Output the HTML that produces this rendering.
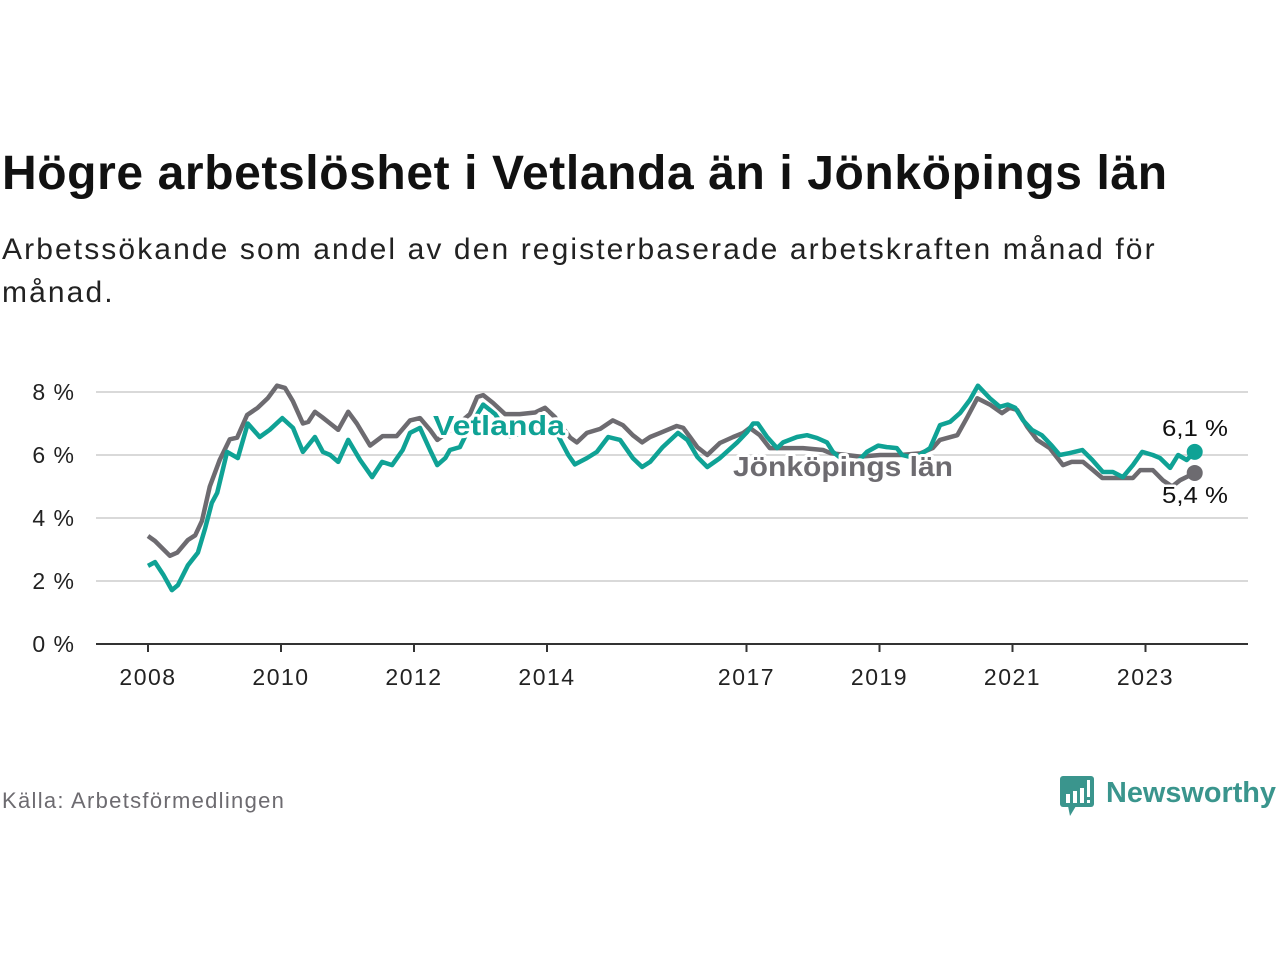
<!DOCTYPE html>
<html><head><meta charset="utf-8"><style>
html,body{margin:0;padding:0;background:#fff;width:1280px;height:960px;overflow:hidden;font-family:"Liberation Sans",sans-serif}
#title{position:absolute;left:2px;top:146px;font-size:48px;font-weight:bold;color:#111;letter-spacing:0.6px;white-space:nowrap}
#sub{position:absolute;left:2px;top:228px;font-size:30px;line-height:43px;color:#222;width:1240px;letter-spacing:2.1px;white-space:nowrap}
#src{position:absolute;left:2px;top:788px;font-size:22px;color:#6d6b70;letter-spacing:1.3px}
svg{position:absolute;left:0;top:0}
</style></head><body>
<div id="title">Högre arbetslöshet i Vetlanda än i Jönköpings län</div>
<div id="sub">Arbetssökande som andel av den registerbaserade arbetskraften månad för<br>månad.</div>
<div id="src">Källa: Arbetsförmedlingen</div>
<svg id="chart" width="1280" height="960"></svg>
<svg width="1280" height="960" style="pointer-events:none">
<g>
<rect x="1060" y="776" width="34" height="31" rx="3" fill="#3a958d"/>
<polygon points="1068,806 1076,806 1070,816" fill="#3a958d"/>
<rect x="1066" y="794" width="4" height="9" fill="#fff"/><rect x="1073" y="791" width="4" height="12" fill="#fff"/><rect x="1080" y="788" width="4" height="15" fill="#fff"/><rect x="1087" y="780" width="3" height="17" fill="#fff"/><rect x="1087" y="800" width="3" height="3" fill="#fff"/>
<text x="1106" y="802" font-size="29" font-weight="bold" font-family="Liberation Sans, sans-serif" fill="#3a958d" textLength="170" lengthAdjust="spacingAndGlyphs">Newsworthy</text>
</g></svg>
<script>
const yTicks=[0,2,4,6,8];
const yTickLabels=["0 %","2 %","4 %","6 %","8 %"];
const xTicks=[2008,2010,2012,2014,2017,2019,2021,2023];
const vetDates=[2008.0,2008.105,2008.23,2008.36,2008.45,2008.6,2008.75,2008.86,2008.96,2009.04,2009.19,2009.35,2009.5,2009.68,2009.83,2010.02,2010.18,2010.33,2010.51,2010.63,2010.74,2010.86,2011.01,2011.19,2011.37,2011.52,2011.67,2011.83,2011.94,2012.09,2012.24,2012.35,2012.47,2012.54,2012.69,2012.84,2013.04,2013.22,2013.44,2013.67,2013.89,2014.12,2014.32,2014.42,2014.6,2014.75,2014.92,2015.1,2015.29,2015.43,2015.55,2015.74,2015.97,2016.11,2016.26,2016.41,2016.6,2016.86,2017.01,2017.1,2017.17,2017.31,2017.46,2017.55,2017.76,2017.91,2018.06,2018.21,2018.3,2018.48,2018.63,2018.81,2018.98,2019.11,2019.26,2019.34,2019.53,2019.76,2019.91,2020.06,2020.21,2020.36,2020.48,2020.66,2020.81,2020.93,2021.04,2021.16,2021.29,2021.44,2021.59,2021.71,2021.86,2022.05,2022.2,2022.36,2022.51,2022.66,2022.81,2022.95,2023.11,2023.22,2023.37,2023.49,2023.62,2023.74];
const vetValues=[2.48,2.6,2.2,1.71,1.87,2.5,2.9,3.68,4.48,4.8,6.1,5.9,7.0,6.57,6.8,7.17,6.86,6.1,6.57,6.1,6.0,5.78,6.48,5.84,5.3,5.78,5.68,6.16,6.7,6.86,6.16,5.68,5.9,6.16,6.25,6.9,7.6,7.3,6.6,6.7,6.9,6.8,6.0,5.7,5.9,6.1,6.57,6.48,5.9,5.62,5.78,6.25,6.7,6.48,5.94,5.62,5.9,6.4,6.73,7.0,7.0,6.57,6.22,6.4,6.57,6.63,6.54,6.4,6.1,5.8,5.7,6.1,6.3,6.25,6.22,6.0,5.9,6.22,6.95,7.05,7.33,7.75,8.2,7.8,7.53,7.6,7.5,7.1,6.8,6.63,6.3,6.0,6.06,6.16,5.84,5.46,5.46,5.3,5.68,6.1,6.0,5.9,5.59,6.0,5.84,6.1];
const jkpDates=[2008.0,2008.105,2008.33,2008.44,2008.6,2008.71,2008.81,2008.93,2009.08,2009.23,2009.34,2009.49,2009.65,2009.8,2009.94,2010.06,2010.18,2010.33,2010.41,2010.51,2010.62,2010.74,2010.86,2011.01,2011.14,2011.34,2011.53,2011.74,2011.94,2012.09,2012.24,2012.35,2012.62,2012.84,2012.95,2013.04,2013.19,2013.37,2013.59,2013.82,2013.97,2014.12,2014.35,2014.45,2014.6,2014.8,2014.99,2015.14,2015.29,2015.43,2015.55,2015.7,2015.95,2016.05,2016.15,2016.26,2016.41,2016.6,2016.8,2016.95,2017.05,2017.2,2017.35,2017.55,2017.85,2018.15,2018.26,2018.71,2019.01,2019.31,2019.61,2019.8,2019.91,2020.17,2020.32,2020.47,2020.66,2020.84,2020.96,2021.07,2021.22,2021.37,2021.56,2021.76,2021.89,2022.06,2022.21,2022.35,2022.81,2022.92,2023.11,2023.26,2023.4,2023.52,2023.74];
const jkpValues=[3.43,3.27,2.8,2.9,3.3,3.45,3.9,5.0,5.85,6.5,6.55,7.27,7.5,7.8,8.2,8.13,7.7,7.0,7.05,7.37,7.2,7.0,6.8,7.37,7.0,6.3,6.6,6.6,7.1,7.17,6.8,6.48,6.9,7.3,7.84,7.9,7.65,7.3,7.3,7.35,7.5,7.2,6.55,6.4,6.7,6.83,7.1,6.95,6.63,6.4,6.57,6.7,6.92,6.86,6.57,6.25,6.0,6.38,6.57,6.7,6.86,6.63,6.22,6.22,6.22,6.16,6.06,5.95,6.0,6.0,6.05,6.22,6.48,6.63,7.2,7.8,7.6,7.33,7.5,7.43,6.9,6.48,6.22,5.68,5.78,5.78,5.52,5.27,5.27,5.52,5.52,5.2,5.0,5.2,5.43];
const NS="http://www.w3.org/2000/svg";
const svg=document.getElementById('chart');
function X(t){return 148+(t-2008)*66.5;}
function Y(v){return 644-v*31.5;}
function mk(tag,attrs,parent){const e=document.createElementNS(NS,tag);for(const k in attrs)e.setAttribute(k,attrs[k]);(parent||svg).appendChild(e);return e;}
yTicks.forEach((v,i)=>{
  if(v>0){const g=mk('line',{x1:96,x2:1248,y1:Y(v),y2:Y(v),stroke:'#d9d9d9','stroke-width':2});
  
  }
  const t=mk('text',{x:75,y:Y(v)+8,'text-anchor':'end','font-size':23,'letter-spacing':1,fill:'#222'});
  t.textContent=yTickLabels[i];
  
  
});
const ax=mk('line',{x1:96,x2:1248,y1:644,y2:644,stroke:'#333','stroke-width':2});


xTicks.forEach(y=>{
  const tk=mk('line',{x1:X(y),x2:X(y),y1:644,y2:652,stroke:'#333','stroke-width':2});
  
  
  const t=mk('text',{x:X(y),y:685,'text-anchor':'middle','font-size':23,'letter-spacing':1.5,fill:'#222'});
  t.textContent=y;
  
  
});
function series(d,v,color,name){
  const p=d.map((t,i)=>(i?'L':'M')+X(t).toFixed(1)+','+Y(v[i]).toFixed(1)).join('');
  const l=mk('path',{d:p,fill:'none',stroke:color,'stroke-width':4.5,'stroke-linejoin':'round'});
  
  
  const n=d.length-1;
  const c=mk('circle',{cx:X(d[n]),cy:Y(v[n]),r:8,fill:color});
  
  
}
series(jkpDates,jkpValues,'#6d6b70','jonkoping');
series(vetDates,vetValues,'#0fa295','vetlanda');
function label(x,y,txt,color,bold,size,len,name){
  const t=mk('text',{x:x,y:y,'font-size':size,'font-weight':bold?'bold':'normal',fill:color,stroke:'#fff','stroke-width':bold?6:5,'paint-order':'stroke','stroke-linejoin':'round',textLength:len,lengthAdjust:'spacingAndGlyphs'});
  t.textContent=txt;
  
  
}
label(433,435,'Vetlanda','#0fa295',true,28,132,'vetlanda-label');
label(733,476,'Jönköpings län','#6d6b70',true,28,220,'jonkoping-label');
label(1162,436,'6,1 %','#111',false,23,66,'vetlanda-value-label');
label(1162,503,'5,4 %','#111',false,23,66,'jonkoping-value-label');
</script>
</body></html>
